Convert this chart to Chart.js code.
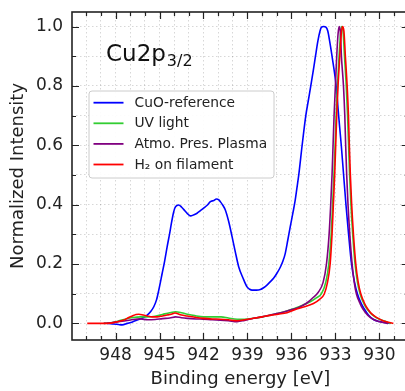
<!DOCTYPE html>
<html><head><meta charset="utf-8">
<script src="https://cdn.jsdelivr.net/npm/chart.js@4"></script>
<style>
html,body{margin:0;padding:0;overflow:hidden;background:#fff;width:405px;height:391px}
#wrap{position:absolute;left:0;top:0;width:412px;height:391px}
</style></head>
<body><div id="wrap"><canvas id="c" width="412" height="391"></canvas></div>
<script>
// ---- data (binding energy in eV, normalized intensity) ----
const cuoE=[948.57,948.2,947.8,947.55,947.2,946.85,946.52,946.2,945.84,945.6,945.39,945.2,945.05,944.82,944.65,944.48,944.3,944.19,944.05,943.96,943.82,943.69,943.5,943.35,943.1,942.89,942.65,942.44,942.2,941.99,941.75,941.53,941.3,941.12,940.95,940.85,940.68,940.51,940.28,940.05,939.83,939.6,939.3,939.03,938.85,938.69,938.4,938.12,937.9,937.67,937.45,937.22,937.0,936.76,936.58,936.42,936.25,936.08,935.9,935.74,935.58,935.5,935.27,935.02,934.85,934.68,934.5,934.36,934.2,934.05,933.95,933.8,933.65,933.52,933.39,933.23,932.95,932.78,932.6,932.44,932.28,932.1,931.9,931.7,931.5,931.25,931.05,930.75,930.43,930.0,929.64,929.3];
const cuoI=[0,-0.002,-0.004,-0.005,0.0,0.005,0.011,0.017,0.028,0.04,0.056,0.08,0.112,0.168,0.21,0.258,0.305,0.337,0.372,0.388,0.397,0.399,0.392,0.384,0.37,0.362,0.366,0.371,0.38,0.388,0.398,0.41,0.414,0.419,0.416,0.41,0.398,0.382,0.343,0.292,0.241,0.191,0.152,0.123,0.115,0.112,0.112,0.114,0.12,0.129,0.14,0.152,0.168,0.189,0.21,0.236,0.28,0.326,0.372,0.416,0.472,0.5,0.6,0.7,0.75,0.8,0.855,0.9,0.95,0.985,0.998,1.0,0.998,0.985,0.95,0.9,0.8,0.7,0.6,0.5,0.4,0.3,0.2,0.14,0.1,0.068,0.05,0.028,0.014,0.006,0.003,0];

const uvE=[948.8,948.3,947.8,947.3,946.8,946.3,945.8,945.3,944.8,944.3,943.9,943.5,943.1,942.6,942.0,941.4,940.8,940.3,939.7,939.2,938.6,938.0,937.4,936.9,936.3,935.8,935.2,934.75,934.3,933.95,933.65,933.45,933.29,933.19,933.1,933.02,932.95,932.86,932.75,932.65,932.57,932.48,932.38,932.26,932.17,932.1,932.03,931.94,931.82,931.66,931.5,931.32,931.05,930.82,930.25,929.5,929.2];
const uvI=[0,0.002,0.008,0.015,0.02,0.022,0.022,0.024,0.03,0.036,0.039,0.036,0.031,0.026,0.022,0.022,0.022,0.018,0.014,0.014,0.017,0.022,0.028,0.034,0.042,0.05,0.062,0.072,0.086,0.1,0.14,0.2,0.3,0.4,0.5,0.6,0.7,0.8,0.9,0.975,1.0,0.985,0.9,0.8,0.7,0.6,0.5,0.4,0.3,0.2,0.14,0.1,0.066,0.047,0.02,0.005,0];

const plasmaE=[948.8,948.3,947.8,947.3,946.8,946.3,945.8,945.3,944.8,944.3,943.9,943.5,943.1,942.5,942.0,941.4,940.85,940.3,939.7,939.2,938.58,938.0,937.44,936.9,936.3,935.54,935.17,934.86,934.5,934.18,933.84,933.61,933.43,933.32,933.23,933.16,933.09,933.0,932.91,932.82,932.74,932.66,932.59,932.45,932.36,932.3,932.23,932.14,932.02,931.86,931.72,931.57,931.3,931.12,930.8,930.43,930.1,929.75,929.4];
const plasmaI=[0,0.002,0.006,0.009,0.013,0.015,0.012,0.013,0.016,0.018,0.022,0.019,0.017,0.015,0.014,0.012,0.011,0.009,0.006,0.01,0.017,0.022,0.028,0.034,0.042,0.053,0.062,0.072,0.088,0.104,0.138,0.2,0.3,0.4,0.5,0.6,0.7,0.8,0.9,0.975,1.0,0.98,0.9,0.8,0.7,0.6,0.5,0.4,0.3,0.2,0.14,0.1,0.065,0.048,0.028,0.014,0.007,0.003,0];

const h2E=[949.93,949.4,948.8,948.34,947.9,947.43,947.1,946.86,946.6,946.41,946.1,945.84,945.5,945.16,944.8,944.48,944.2,943.95,943.8,943.5,943.12,942.5,941.98,941.4,940.85,940.3,939.71,939.1,938.58,938.0,937.44,936.9,936.3,935.77,935.17,934.5,934.1,933.77,933.54,933.36,933.23,933.14,933.05,932.98,932.91,932.82,932.7,932.6,932.52,932.42,932.32,932.2,932.11,932.05,931.98,931.89,931.77,931.61,931.45,931.27,931.0,930.77,930.5,930.2,929.8,929.41,929.05];
const h2I=[0,0,0,0.001,0.005,0.011,0.02,0.025,0.03,0.031,0.028,0.025,0.022,0.022,0.025,0.028,0.031,0.035,0.033,0.028,0.025,0.02,0.017,0.015,0.014,0.012,0.009,0.013,0.017,0.022,0.027,0.031,0.036,0.046,0.055,0.067,0.08,0.098,0.138,0.2,0.3,0.4,0.5,0.6,0.7,0.8,0.9,0.975,1.0,0.985,0.9,0.8,0.7,0.6,0.5,0.4,0.3,0.2,0.14,0.1,0.066,0.047,0.031,0.02,0.01,0.004,0];

const seriesLabels=['CuO-reference','UV light','Atmo. Pres. Plasma','H\u2082 on filament'];
const seriesColors=['#0000ff','#32cd32','#800080','#ff0000'];

// ticks
const xGridValues=[929,930,931,932,933,934,935,936,937,938,939,940,941,942,943,944,945,946,947,948,949,950];
const xLabelValues=[948,945,942,939,936,933,930];
const yGridValues=[0,0.1,0.2,0.3,0.4,0.5,0.6,0.7,0.8,0.9,1.0];
const yLabelValues=[0,0.2,0.4,0.6,0.8,1.0];

const FONT='DejaVu Sans';
const toPts=(E,I)=>E.map((e,i)=>({x:e,y:I[i]}));
const isXLabel=v=>xLabelValues.some(l=>Math.abs(l-v)<1e-6);
const isYLabel=v=>yLabelValues.some(l=>Math.abs(l-v)<1e-6);

const decor={
  id:'decor',
  afterDatasetsDraw(chart){
    const {ctx,chartArea:a,scales:{x,y}}=chart;
    ctx.save();
    ctx.strokeStyle='#222';
    ctx.lineWidth=1.2;
    ctx.beginPath();
    xGridValues.forEach(v=>{
      const px=Math.round(x.getPixelForValue(v))+0.5;
      const len=isXLabel(v)?7:4;
      ctx.moveTo(px,a.bottom);ctx.lineTo(px,a.bottom-len);
      ctx.moveTo(px,a.top);ctx.lineTo(px,a.top+len);
    });
    yGridValues.forEach(v=>{
      const py=Math.round(y.getPixelForValue(v))+0.5;
      const len=isYLabel(v)?7:4;
      ctx.moveTo(a.left,py);ctx.lineTo(a.left+len,py);
      ctx.moveTo(a.right,py);ctx.lineTo(a.right-len,py);
    });
    ctx.stroke();
    ctx.lineWidth=1.6;
    ctx.strokeRect(a.left,a.top,a.right-a.left,a.bottom-a.top);

    // annotation
    ctx.fillStyle='#111';
    ctx.textBaseline='alphabetic';
    ctx.textAlign='left';
    ctx.font='23px "'+FONT+'"';
    const ax=a.left+34, ay=a.top+49;
    ctx.fillText('Cu2p',ax,ay);
    const w=ctx.measureText('Cu2p').width;
    ctx.font='16px "'+FONT+'"';
    ctx.fillText('3/2',ax+w+1,ay+4.5);

    // legend
    const lx=a.left+17, ly=a.top+79, lw=185, lh=87, r=3;
    ctx.beginPath();
    ctx.moveTo(lx+r,ly);ctx.lineTo(lx+lw-r,ly);ctx.arcTo(lx+lw,ly,lx+lw,ly+r,r);
    ctx.lineTo(lx+lw,ly+lh-r);ctx.arcTo(lx+lw,ly+lh,lx+lw-r,ly+lh,r);
    ctx.lineTo(lx+r,ly+lh);ctx.arcTo(lx,ly+lh,lx,ly+lh-r,r);
    ctx.lineTo(lx,ly+r);ctx.arcTo(lx,ly,lx+r,ly,r);ctx.closePath();
    ctx.fillStyle='rgba(255,255,255,0.92)';ctx.fill();
    ctx.strokeStyle='#cccccc';ctx.lineWidth=1;ctx.stroke();
    ctx.font='13.8px "'+FONT+'"';
    ctx.textBaseline='middle';
    chart.data.datasets.forEach((ds,i)=>{
      const ry=ly+11.7+i*20.6;
      ctx.strokeStyle=ds.borderColor;ctx.lineWidth=1.8;
      ctx.beginPath();ctx.moveTo(lx+4.5,ry);ctx.lineTo(lx+34.5,ry);ctx.stroke();
      ctx.fillStyle='#222';
      ctx.fillText(ds.label,lx+45.5,ry+0.5);
    });
    ctx.restore();
  }
};

const sets=[[cuoE,cuoI],[uvE,uvI],[plasmaE,plasmaI],[h2E,h2I]];
new Chart(document.getElementById('c'),{
  type:'line',
  data:{datasets:sets.map((s,i)=>({
    label:seriesLabels[i],data:toPts(s[0],s[1]),borderColor:seriesColors[i],
    backgroundColor:seriesColors[i],order:4-i,fill:false
  }))},
  options:{
    responsive:false,animation:false,devicePixelRatio:1,
    elements:{point:{radius:0},line:{borderWidth:1.6,cubicInterpolationMode:'monotone'}},
    layout:{padding:{left:0,top:12,right:3.3,bottom:0}},
    plugins:{legend:{display:false},tooltip:{enabled:false}},
    scales:{
      x:{type:'linear',reverse:true,min:928.0,max:950.97,position:'bottom',
        afterBuildTicks:s=>{s.ticks=xGridValues.map(v=>({value:v}));},
        afterFit:s=>{s.height=51;s.paddingLeft=0;s.paddingRight=0;s.paddingTop=0;s.paddingBottom=0;},
        ticks:{autoSkip:false,maxRotation:0,minRotation:0,padding:5,color:'#222',
          font:{family:FONT,size:17},callback:v=>isXLabel(v)?String(Math.round(v)):''},
        grid:{drawTicks:false,color:'rgba(0,0,0,0.2)',lineWidth:0.8},
        border:{display:false,dash:[1.5,2.5]},
        title:{display:true,text:'Binding energy [eV]',color:'#222',font:{family:FONT,size:18},padding:{top:0,bottom:1.2}}
      },
      y:{type:'linear',min:-0.056,max:1.049,position:'left',
        afterBuildTicks:s=>{s.ticks=yGridValues.map(v=>({value:v}));},
        afterFit:s=>{s.width=72;s.paddingLeft=0;s.paddingRight=0;s.paddingTop=0;s.paddingBottom=0;},
        ticks:{autoSkip:false,padding:9,color:'#222',font:{family:FONT,size:17},
          callback:v=>isYLabel(v)?v.toFixed(1):''},
        grid:{drawTicks:false,color:'rgba(0,0,0,0.2)',lineWidth:0.8},
        border:{display:false,dash:[1.5,2.5]},
        title:{display:true,text:'Normalized Intensity',color:'#222',font:{family:FONT,size:18},padding:{top:7.7,bottom:0}}
      }
    }
  },
  plugins:[decor]
});
</script>
</body></html>
